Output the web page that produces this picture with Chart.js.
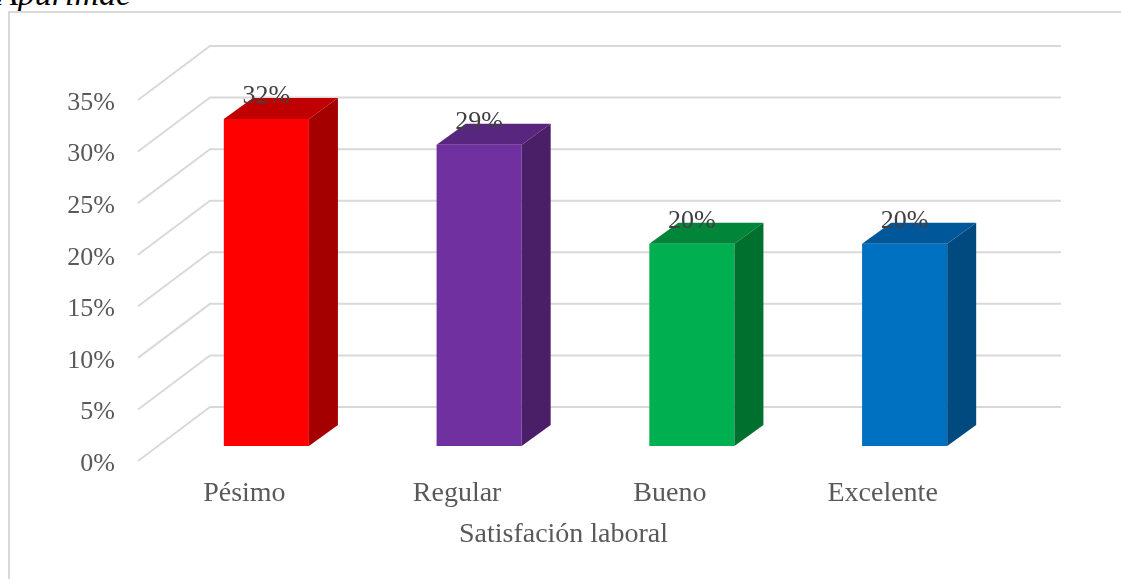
<!DOCTYPE html>
<html lang="es">
<head>
<meta charset="utf-8">
<title>Satisfación laboral</title>
<script src="https://cdn.jsdelivr.net/npm/chart.js@4.4.1/dist/chart.umd.min.js"></script>
<style>
  html, body { margin: 0; padding: 0; background: #fff; overflow: hidden; }
  #wrap { position: relative; width: 1121px; height: 579px; overflow: hidden; }
  #caption {
    position: absolute; left: -3px; top: -25px; line-height: 32px;
    font: italic 34px "Times New Roman", "Liberation Serif", serif; color: #000;
  }
  #frame {
    position: absolute; left: 8px; top: 11px; width: 1140px; height: 620px;
    border: 2px solid #d9d9d9;
  }
  canvas { position: absolute; left: 0; top: 0; }
</style>
</head>
<body>
<div id="wrap">
  <div id="caption">Apurímac</div>
  <div id="frame"></div>
  <canvas id="chart" width="1121" height="579"></canvas>
</div>
<script>
const CATEGORIES = ['Pésimo', 'Regular', 'Bueno', 'Excelente'];
const PERCENTS = [31.7, 29.2, 19.6, 19.6];
const Y_MAX = 35;
const Y_STEP = 5;
const AXIS_TITLE = 'Satisfación laboral';

const FRONT_COLORS = ['#ff0000', '#7030a0', '#00b050', '#0070c0'];
const TOP_COLORS = ['#c00000', '#58267f', '#008539', '#00589a'];
const SIDE_COLORS = ['#a50000', '#4a1f68', '#00702f', '#004a80'];

// 3d offsets, measured from the bar plane
const BAR_DEPTH = { dx: 29, dy: -21 };
const FLOOR_FRONT = { dx: -22, dy: 15 };
const FLOOR_BACK = { dx: 50, dy: -39 };

const SERIF = '"Times New Roman", "Liberation Serif", serif';
const TICK_FONT = { family: SERIF, size: 26 };
const LABEL_FONT = { family: SERIF, size: 28 };
const TEXT_GREY = '#595959';
const GRID_GREY = '#d9d9d9';

function poly(ctx, points, color) {
  ctx.beginPath();
  ctx.moveTo(points[0][0], points[0][1]);
  points.slice(1).forEach(([px, py]) => ctx.lineTo(px, py));
  ctx.closePath();
  ctx.fillStyle = color;
  ctx.fill();
}

const walls3d = {
  id: 'walls3d',
  beforeDatasetsDraw(chart) {
    const { ctx, chartArea, scales: { y } } = chart;
    ctx.save();
    ctx.strokeStyle = GRID_GREY;
    ctx.lineWidth = 2;
    y.ticks.forEach((tick) => {
      const py = y.getPixelForValue(tick.value);
      ctx.beginPath();
      ctx.moveTo(chartArea.left + FLOOR_FRONT.dx, py + FLOOR_FRONT.dy);
      ctx.lineTo(chartArea.left + FLOOR_BACK.dx, py + FLOOR_BACK.dy);
      ctx.lineTo(chartArea.right + FLOOR_BACK.dx, py + FLOOR_BACK.dy);
      ctx.stroke();
    });
    ctx.restore();
  },
  afterDatasetsDraw(chart) {
    const { ctx, chartArea } = chart;
    const meta = chart.getDatasetMeta(0);
    ctx.save();
    meta.data.forEach((bar, i) => {
      const { x, y, base, width } = bar.getProps(['x', 'y', 'base', 'width'], true);
      const left = x - width / 2;
      const right = x + width / 2;
      const { dx, dy } = BAR_DEPTH;
      poly(ctx, [[left, y], [left + dx, y + dy], [right + dx, y + dy], [right, y]], TOP_COLORS[i]);
      poly(ctx, [[right, y], [right + dx, y + dy], [right + dx, base + dy], [right, base]], SIDE_COLORS[i]);
    });
    ctx.font = `${TICK_FONT.size}px ${TICK_FONT.family}`;
    ctx.fillStyle = '#404040';
    ctx.textAlign = 'center';
    ctx.textBaseline = 'middle';
    meta.data.forEach((bar, i) => {
      ctx.fillText(Math.round(PERCENTS[i]) + '%', bar.x, bar.y - 23);
    });

    // axis title sits under the front edge of the floor, not the bar plane
    ctx.font = `${LABEL_FONT.size}px ${LABEL_FONT.family}`;
    ctx.fillStyle = TEXT_GREY;
    const midX = (chartArea.left + chartArea.right) / 2 + FLOOR_FRONT.dx;
    ctx.fillText(AXIS_TITLE, midX, chartArea.bottom + 89);
    ctx.restore();
  },
};

new Chart(document.getElementById('chart'), {
  type: 'bar',
  data: {
    labels: CATEGORIES,
    datasets: [{
      data: PERCENTS,
      backgroundColor: FRONT_COLORS,
      borderWidth: 0,
      barPercentage: 0.4,
      categoryPercentage: 1,
    }],
  },
  options: {
    responsive: false,
    animation: false,
    layout: { padding: { top: 85, right: 110, bottom: 0, left: 0 } },
    plugins: { legend: { display: false }, tooltip: { enabled: false } },
    scales: {
      x: {
        grid: { display: false, drawTicks: false },
        border: { display: false },
        ticks: { color: TEXT_GREY, font: LABEL_FONT, padding: 31, labelOffset: -22, maxRotation: 0 },
        afterFit: (scale) => { scale.height = 133; },
      },
      y: {
        min: 0,
        max: Y_MAX,
        grid: { display: false, drawTicks: false },
        border: { display: false },
        ticks: {
          stepSize: Y_STEP, color: TEXT_GREY, font: TICK_FONT, padding: 45, labelOffset: 18,
          callback: (v) => v + '%',
        },
        afterFit: (scale) => { scale.width = 160; },
      },
    },
  },
  plugins: [walls3d],
});
</script>
</body>
</html>
